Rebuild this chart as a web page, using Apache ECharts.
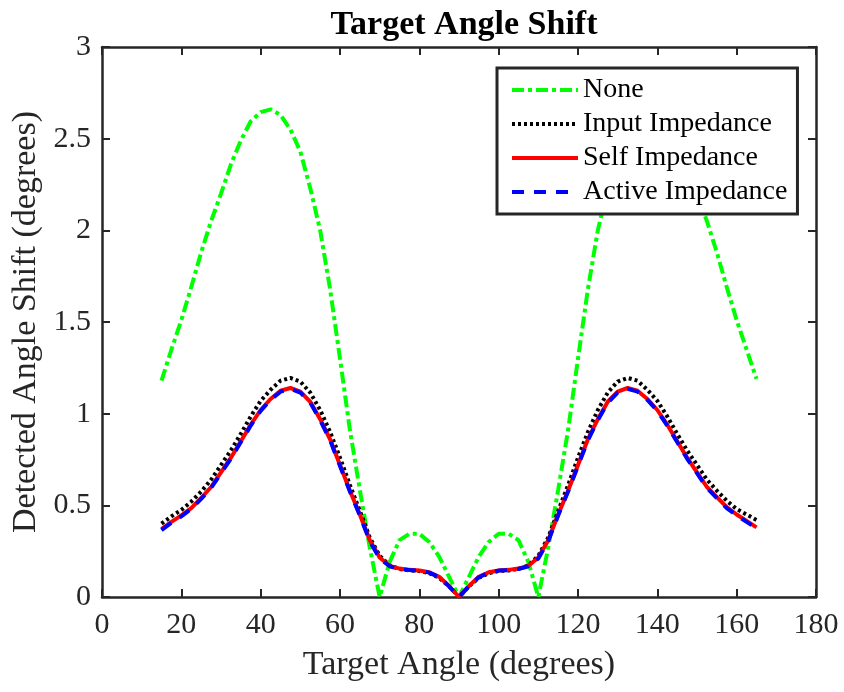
<!DOCTYPE html>
<html>
<head>
<meta charset="utf-8">
<script src="https://cdn.jsdelivr.net/npm/echarts@6/dist/echarts.min.js"></script>
<style>html,body{margin:0;padding:0;background:#fff}#c{width:844px;height:692px}</style>
</head>
<body>
<div id="c"></div>
<script>
var angles = [15,17.5,20,22.5,25,27.5,30,32.5,35,37.5,40,42.5,45,47.5,50,52.5,55,57.5,60,62.5,65,67.5,70,72.5,75,77.5,80,82.5,85,87.5,90,
  92.5,95,97.5,100,102.5,105,107.5,110,112.5,115,117.5,120,122.5,125,127.5,130,132.5,135,137.5,140,142.5,145,147.5,150,152.5,155,157.5,160,162.5,165];

var noneVals = [1.18,1.35,1.51,1.69,1.88,2.05,2.20,2.36,2.49,2.595,2.645,2.66,2.63,2.55,2.43,2.23,2.0,1.68,1.30,0.91,0.585,0.27,0.0,0.19,0.31,0.345,0.345,0.30,0.22,0.11,0.0,
  0.11,0.22,0.30,0.345,0.345,0.31,0.19,0.0,0.27,0.585,0.91,1.30,1.68,2.0,2.23,2.43,2.55,2.63,2.66,2.645,2.595,2.49,2.36,2.20,2.05,1.88,1.69,1.51,1.35,1.19];

var inputVals = [0.40,0.44,0.475,0.52,0.575,0.64,0.72,0.80,0.89,0.985,1.07,1.13,1.18,1.195,1.175,1.115,1.02,0.90,0.76,0.61,0.47,0.325,0.225,0.172,0.153,0.145,0.142,0.13,0.105,0.058,0.0,
  0.058,0.105,0.13,0.142,0.145,0.153,0.172,0.225,0.325,0.47,0.61,0.76,0.90,1.02,1.115,1.175,1.195,1.18,1.13,1.07,0.985,0.89,0.80,0.72,0.64,0.58,0.525,0.48,0.45,0.42];

var selfVals = [0.37,0.41,0.445,0.485,0.54,0.60,0.68,0.76,0.85,0.94,1.02,1.08,1.125,1.14,1.12,1.065,0.97,0.86,0.72,0.58,0.45,0.31,0.215,0.17,0.155,0.148,0.145,0.135,0.11,0.06,0.0,
  0.06,0.11,0.135,0.145,0.148,0.155,0.17,0.215,0.31,0.45,0.58,0.72,0.86,0.97,1.065,1.12,1.14,1.125,1.08,1.02,0.94,0.85,0.76,0.68,0.60,0.545,0.49,0.45,0.415,0.38];

var activeVals = [0.365,0.405,0.44,0.48,0.535,0.595,0.675,0.755,0.845,0.935,1.015,1.075,1.12,1.135,1.115,1.06,0.965,0.855,0.715,0.575,0.445,0.305,0.21,0.168,0.153,0.147,0.144,0.133,0.108,0.058,0.0,
  0.058,0.108,0.133,0.144,0.147,0.153,0.168,0.21,0.305,0.445,0.575,0.715,0.855,0.965,1.06,1.115,1.135,1.12,1.075,1.015,0.935,0.845,0.755,0.675,0.595,0.54,0.485,0.445,0.41,0.375];

var xTicks = [0,20,40,60,80,100,120,140,160,180];
var yTicks = [0,0.5,1,1.5,2,2.5,3];

function pairs(v){ return angles.map(function(a,i){ return [a, v[i]]; }); }

var FONT = 'Liberation Serif';
var AX = '#262626';

var chart = echarts.init(document.getElementById('c'), null, {renderer:'canvas'});
var axisCommon = {
  axisLine:{show:true, onZero:false, lineStyle:{color:AX, width:2.5}},
  axisTick:{show:true, inside:true, length:8, lineStyle:{color:AX, width:2}},
  splitLine:{show:false}
};
chart.setOption({
  animation:false,
  backgroundColor:'#fff',
  title:{
    text:'Target Angle Shift', left:459, top:3, textAlign:'center',
    textStyle:{fontFamily:FONT, fontWeight:'bold', fontSize:34, color:'#000'}
  },
  grid:{left:102, right:28, top:47, bottom:95, containLabel:false},
  legend:{
    orient:'vertical', left:497, top:68,
    backgroundColor:'#fff', borderColor:AX, borderWidth:3, borderRadius:0,
    padding:[8,10,8,13], itemGap:6, itemWidth:66, itemHeight:14,
    itemStyle:{opacity:0},
    lineStyle:{width:4},
    textStyle:{fontFamily:FONT, fontSize:28, color:'#000', lineHeight:28},
    data:['None','Input Impedance','Self Impedance','Active Impedance']
  },
  xAxis:[
    Object.assign({type:'value', min:0, max:180, interval:20, position:'bottom',
      name:'Target Angle (degrees)', nameLocation:'middle', nameGap:51,
      nameTextStyle:{fontFamily:FONT, fontSize:34, color:AX},
      axisLabel:{fontFamily:FONT, fontSize:30, color:AX, margin:13,
        formatter:function(v){ return xTicks.indexOf(v) >= 0 ? String(v) : ''; }}}, axisCommon),
    Object.assign({type:'value', min:0, max:180, interval:20, position:'top', axisLabel:{show:false}}, axisCommon)
  ],
  yAxis:[
    Object.assign({type:'value', min:0, max:3, interval:0.5, position:'left',
      name:'Detected Angle Shift (degrees)', nameLocation:'middle', nameGap:57,
      nameTextStyle:{fontFamily:FONT, fontSize:34, color:AX},
      axisLabel:{fontFamily:FONT, fontSize:30, color:AX, margin:11,
        formatter:function(v){ return yTicks.indexOf(v) >= 0 ? String(v) : ''; }}}, axisCommon),
    Object.assign({type:'value', min:0, max:3, interval:0.5, position:'right', axisLabel:{show:false}}, axisCommon)
  ],
  series:[
    {name:'None', type:'line', data:pairs(noneVals), symbol:'none', smooth:false,
      lineStyle:{color:'#00ff00', width:4, type:[12,4,4,4]}, itemStyle:{color:'#00ff00'}},
    {name:'Input Impedance', type:'line', data:pairs(inputVals), symbol:'none', smooth:false,
      lineStyle:{color:'#000000', width:4, type:[3,3]}, itemStyle:{color:'#000000'}},
    {name:'Self Impedance', type:'line', data:pairs(selfVals), symbol:'none', smooth:false,
      lineStyle:{color:'#ff0000', width:4, type:'solid'}, itemStyle:{color:'#ff0000'}},
    {name:'Active Impedance', type:'line', data:pairs(activeVals), symbol:'none', smooth:false,
      lineStyle:{color:'#0000ff', width:4, type:[12,10]}, itemStyle:{color:'#0000ff'}}
  ]
});
</script>
</body>
</html>
